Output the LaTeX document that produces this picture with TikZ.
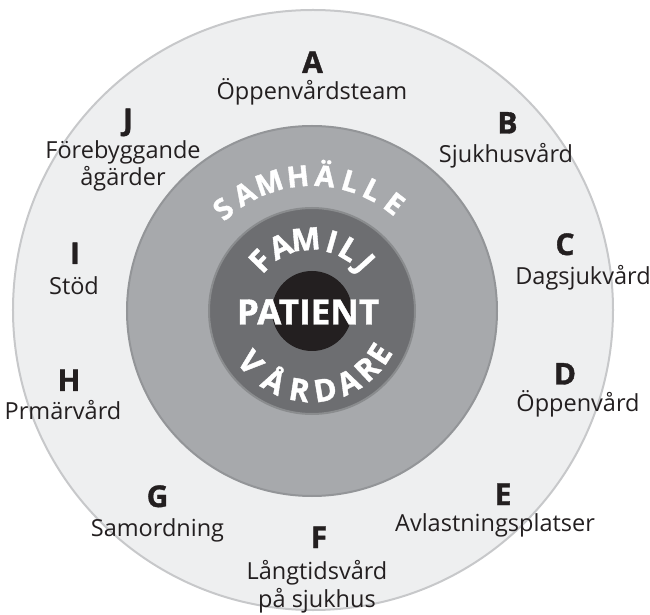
\documentclass[tikz,border=0pt]{standalone}
\usepackage{fontspec}
\setmainfont{Open Sans}
\newfontfamily\heavyfont[BoldFeatures={FakeBold=1.2}]{Open Sans}
\usepackage{xcolor}
\definecolor{careouter}{HTML}{EEEFF0}
\definecolor{careouterline}{HTML}{C7C8CA}
\definecolor{caremid}{HTML}{A7A9AC}
\definecolor{caremidline}{HTML}{939598}
\definecolor{careinner}{HTML}{6D6E71}
\definecolor{careinnerline}{HTML}{8A8C8E}
\definecolor{carecore}{HTML}{231F20}

\begin{document}
\begin{tikzpicture}[
    x=1pt, y=1pt,
    ring/.style={line width=2pt},
    letter/.style={font=\fontsize{30}{35}\selectfont\heavyfont\bfseries, text=carecore,
      anchor=base, inner sep=0pt},
    service/.style={font=\fontsize{23.5}{27.5}\selectfont, text=carecore,
      align=center, inner sep=0pt},
    arcletter/.style={font=\fontsize{29}{34}\selectfont\heavyfont\bfseries, text=white,
      anchor=base, inner sep=0pt},
    arcletterbig/.style={arcletter, font=\fontsize{31}{36}\selectfont\heavyfont\bfseries}
  ]
    \useasboundingbox (-312,-304) rectangle (338,311);

    % rings
    \draw[ring, fill=careouter, draw=careouterline] (1,1) circle[radius=300];
    \draw[ring, fill=caremid, draw=caremidline] (0,0) circle[radius=185];
    \draw[ring, fill=careinner, draw=careinnerline] (0,0) circle[radius=103];
    \fill[carecore] (0,0) circle[radius=40];

    % services around the outer ring
    \node[letter] (lA) at (0.5,238) {A};
    \node[service] (tA) at (0,219) {Öppenvårdsteam};
    \node[letter] (lB) at (195.5,177.5) {B};
    \node[service] (tB) at (194,155) {Sjukhusvård};
    \node[letter] (lC) at (253,56) {C};
    \node[service] (tC) at (271,33) {Dagsjukvård};
    \node[letter] (lD) at (253,-73.5) {D};
    \node[service] (tD) at (266,-93) {Öppenvård};
    \node[letter] (lE) at (191,-194) {E};
    \node[service] (tE) at (183,-214) {Avlastningsplatser};
    \node[letter] (lF) at (7,-237) {F};
    \node[service] (tF) at (5,-275.5) {Långtidsvård\\på sjukhus};
    \node[letter] (lG) at (-154.5,-196) {G};
    \node[service] (tG) at (-154.5,-219) {Samordning};
    \node[letter] (lH) at (-243,-80) {H};
    \node[service] (tH) at (-249,-99) {Prmärvård};
    \node[letter] (lI) at (-237,47) {I};
    \node[service] (tI) at (-238,25) {Stöd};
    \node[letter] (lJ) at (-184,181) {J};
    \node[service] (tJ) at (-189,145) {Förebyggande\\ågärder};

    % curved ring names
    \foreach \ch/\ang [count=\i] in {S/131,A/120,M/108.5,H/96,Ä/84.5,L/73.5,L/63.5,E/52.5}
      \node[arcletter, rotate=\ang-90] (sam\i) at (\ang:125) {\ch};
    \foreach \ch/\ang [count=\i] in {F/136,A/116,M/95,I/74,L/59,J/42}
      \node[arcletterbig, rotate=\ang-90] (fam\i) at (\ang:61) {\ch};
    \foreach \ch/\ang [count=\i] in {V/220,Å/241.5,R/261,D/279.5,A/297,R/313.5,E/327.5}
      \node[arcletterbig, rotate=\ang+90] (vard\i) at (\ang:91) {\ch};

    \node[arcletter, font=\fontsize{35}{40}\selectfont\heavyfont\bfseries] (patient) at (-4,-13.5) {PATIENT};
  \end{tikzpicture}
\end{document}
